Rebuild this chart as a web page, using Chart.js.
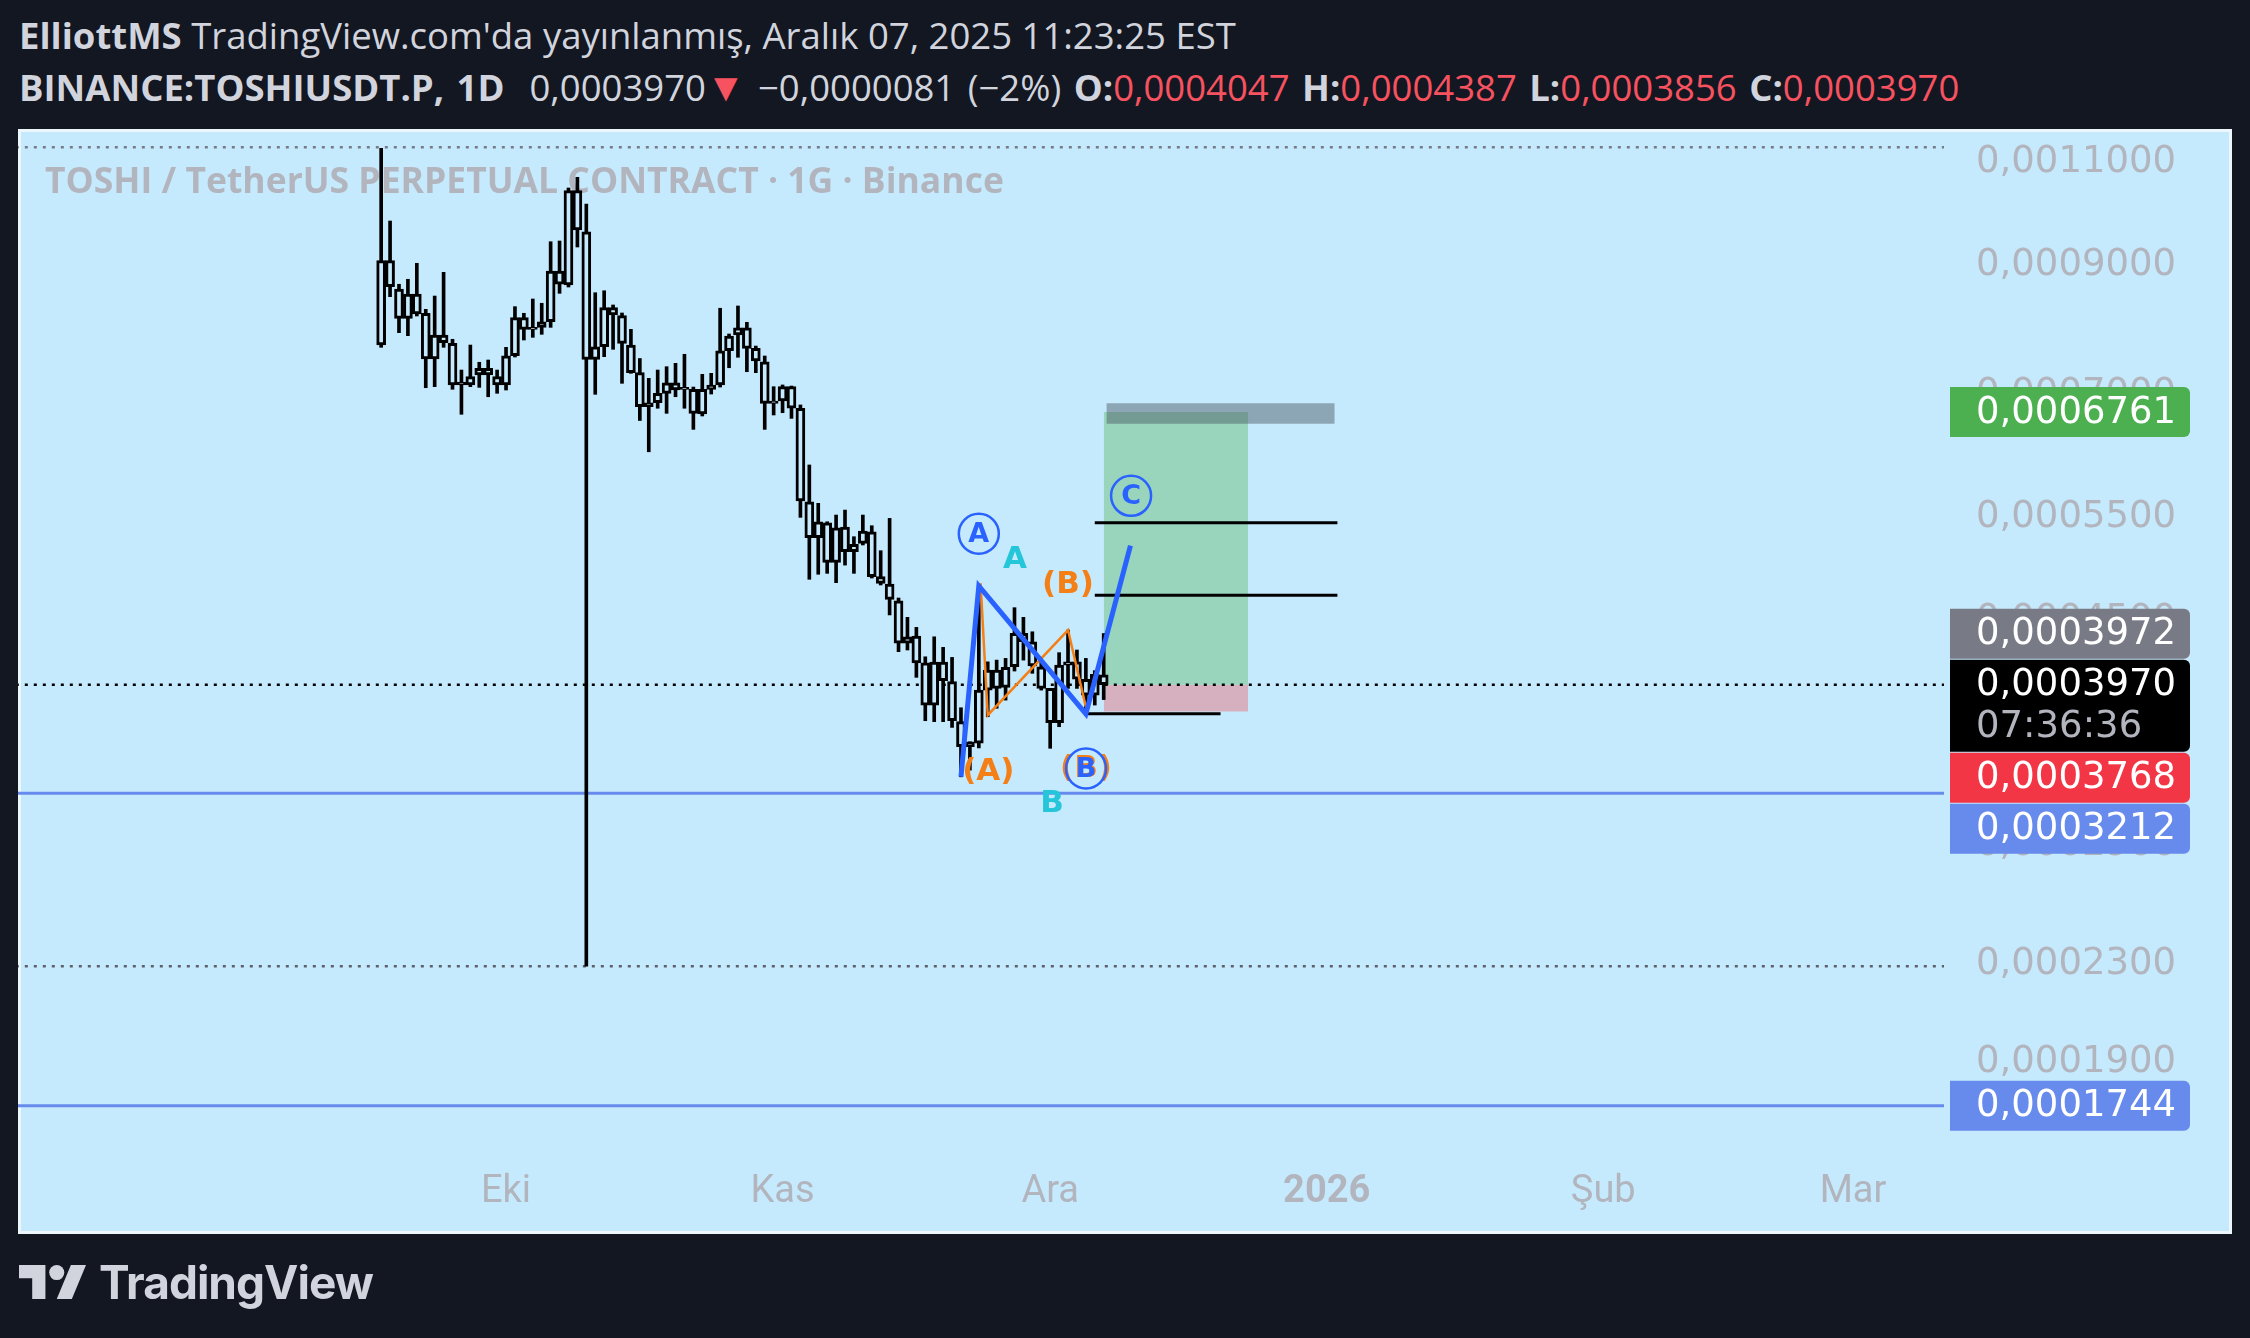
<!DOCTYPE html>
<html>
<head>
<meta charset="utf-8">
<script src="https://cdn.jsdelivr.net/npm/chart.js@4.4.1/dist/chart.umd.min.js"></script>
<style>
  html, body { margin: 0; padding: 0; background: #131722; width: 2250px; height: 1338px; overflow: hidden; }
  #chart { position: absolute; left: 0; top: 0; }
  .hdr { position: absolute; left: 19px; color: #d1d4dc; font-family: "Open Sans", sans-serif; font-size: 36.5px; line-height: 1.2; white-space: nowrap; }
  .hdr b { font-weight: 700; }
  #h1 { top: 14px; }
  #h2 { top: 62px; word-spacing: 3px; }
  .red { color: #f7525f; }
  .tri { font-size: 40px; }
  #logo { position: absolute; left: 19px; top: 1254px; display: flex; align-items: center; color: #d1d4dc; }
  #logo span { font-family: Inter, sans-serif; font-weight: 700; font-size: 46px; margin-left: 13px; letter-spacing: -1px; }
</style>
</head>
<body>
<div class="hdr" id="h1"><b>ElliottMS</b> TradingView.com'da yayınlanmış, Aralık 07, 2025 11:23:25 EST</div>
<div class="hdr" id="h2"><b>BINANCE:TOSHIUSDT.P, 1D</b>&nbsp; 0,0003970<span class="red tri">▼</span> −0,0000081 (−2%) <b>O:</b><span class="red">0,0004047</span> <b>H:</b><span class="red">0,0004387</span> <b>L:</b><span class="red">0,0003856</span> <b>C:</b><span class="red">0,0003970</span></div>
<canvas id="chart" width="2250" height="1338"></canvas>
<div id="logo">
  <svg width="67" height="34" viewBox="0 4 35.5 18"><path fill="#d1d4dc" d="M14 22H7V11H0V4h14v18ZM28 22h-8l7.5-18h8L28 22Z"/><circle fill="#d1d4dc" cx="20" cy="8" r="4"/></svg>
  <span>TradingView</span>
</div>
<script>
// day numbers counted from 1 Sep 2025 (day 0); first candle is 17 Sep
const firstDay = 16;

const opens = [0.0007706,0.0009086,0.0008597,0.0008119,0.0008514,0.0008199,0.0007499,0.0007859,0.0007732,0.0007128,
  0.0007128,0.0007268,0.0007364,0.0007244,0.0007128,0.0007547,0.0008129,0.0007946,0.0007977,0.0008065,
  0.0008905,0.0008665,0.0010417,0.0009615,0.0007494,0.0007681,0.0008289,0.0008161,0.0007706,0.0007301,
  0.0006832,0.0006885,0.0007013,0.0007159,0.0007068,0.0007068,0.0006735,0.0007068,0.0007128,0.0007621,
  0.0007859,0.0007971,0.0007657,0.0007459,0.0006877,0.0006908,0.0007104,0.0006811,0.0005674,0.0005290,
  0.0005446,0.0005041,0.0005400,0.0005147,0.0005232,0.0005351,0.0004902,0.0004832,0.0004677,0.0004304,
  0.0004365,0.0004143,0.0003815,0.0004149,0.0003993,0.0003693,0.0003517,0.0003542,0.0003928,0.0004085,
  0.0003949,0.0004111,0.0004389,0.0004317,0.0004111,0.0003941,0.0003686,0.0004125,0.0004151,0.0004012,
  0.0003890,0.0004047];
const highs = [0.0011316,0.0009818,0.0008677,0.0008762,0.0009040,0.0008263,0.0008480,0.0008882,0.0007793,0.0007339,
  0.0007706,0.0007451,0.0007484,0.0007339,0.0007672,0.0008306,0.0008199,0.0008431,0.0008361,0.0009429,
  0.0009442,0.0010472,0.0010693,0.0010150,0.0008535,0.0008568,0.0008333,0.0008204,0.0007946,0.0007506,
  0.0007221,0.0007339,0.0007387,0.0007436,0.0007568,0.0007099,0.0007278,0.0007292,0.0008280,0.0007874,
  0.0008317,0.0008056,0.0007691,0.0007543,0.0007104,0.0007128,0.0007113,0.0006855,0.0006097,0.0005657,
  0.0005457,0.0005529,0.0005583,0.0005300,0.0005529,0.0005415,0.0005157,0.0005493,0.0004702,0.0004528,
  0.0004440,0.0004192,0.0004359,0.0004270,0.0004187,0.0003795,0.0003551,0.0004814,0.0004151,0.0004165,
  0.0004179,0.0004614,0.0004528,0.0004402,0.0004151,0.0003941,0.0004226,0.0004417,0.0004248,0.0004179,
  0.0004080,0.0004387];
const lows = [0.0007672,0.0008469,0.0007894,0.0007848,0.0008156,0.0007090,0.0007104,0.0007672,0.0007068,0.0006731,
  0.0007104,0.0007095,0.0006966,0.0007013,0.0007058,0.0007528,0.0007782,0.0007823,0.0007869,0.0007977,
  0.0008525,0.0008631,0.0009332,0.0002291,0.0006999,0.0007533,0.0007642,0.0007151,0.0007292,0.0006650,
  0.0006256,0.0006811,0.0006744,0.0006966,0.0006811,0.0006536,0.0006709,0.0007003,0.0007099,0.0007372,
  0.0007524,0.0007315,0.0007301,0.0006536,0.0006722,0.0006752,0.0006678,0.0005504,0.0004877,0.0004925,
  0.0004934,0.0004845,0.0005014,0.0004934,0.0005215,0.0004889,0.0004823,0.0004549,0.0004234,0.0004248,
  0.0004027,0.0003700,0.0003693,0.0003693,0.0003652,0.0003316,0.0003360,0.0003508,0.0003729,0.0003791,
  0.0003852,0.0004077,0.0004165,0.0004059,0.0003928,0.0003506,0.0003657,0.0003941,0.0003941,0.0003763,
  0.0003815,0.0003856];
const closes = [0.0009086,0.0008636,0.0008119,0.0008514,0.0008188,0.0007499,0.0007859,0.0007741,0.0007128,0.0007169,
  0.0007244,0.0007364,0.0007268,0.0007128,0.0007547,0.0008129,0.0007946,0.0007977,0.0008065,0.0008905,
  0.0008677,0.0010417,0.0009647,0.0007494,0.0007681,0.0008289,0.0008172,0.0007732,0.0007301,0.0006832,
  0.0006885,0.0007013,0.0007159,0.0007058,0.0007095,0.0006744,0.0007068,0.0007128,0.0007621,0.0007843,
  0.0007971,0.0007657,0.0007470,0.0006877,0.0006908,0.0007104,0.0006811,0.0005685,0.0005290,0.0005457,
  0.0005041,0.0005393,0.0005147,0.0005222,0.0005359,0.0004902,0.0004839,0.0004690,0.0004304,0.0004359,
  0.0004143,0.0003815,0.0004149,0.0004001,0.0003700,0.0003517,0.0003551,0.0003928,0.0004085,0.0003941,
  0.0004107,0.0004389,0.0004317,0.0004117,0.0003941,0.0003686,0.0004125,0.0004151,0.0004012,0.0003890,
  0.0004051,0.0003970];

// x axis: month starts (day numbers) and their labels
const monthDays = [30, 61, 91, 122, 153, 181];
const monthLabels = ['Eki', 'Kas', 'Ara', '2026', 'Şub', 'Mar'];
const priceTicks = [0.0011, 0.0009, 0.0007, 0.00055, 0.00045, 0.00036, 0.00029, 0.00023, 0.00019];

// elliott wave drawings
const waveBlue = [{x: 81, y: 0.0003316}, {x: 83, y: 0.0004814}, {x: 95, y: 0.000375}, {x: 100, y: 0.0005208}];
const waveOrange = [{x: 83.2, y: 0.000484}, {x: 84, y: 0.000374}, {x: 93, y: 0.0004417}, {x: 95, y: 0.00038}];
const waveText = ['A', 'A', '(B)', '(A)', '(B)', 'B', 'B', 'C'];
const waveTextX = [83, 87.06, 93, 84.07, 95.02, 95.02, 91.2, 100.07];
const waveTextY = [0.000533, 0.0005064, 0.000482, 0.000335, 0.000337, 0.000337, 0.0003144, 0.000574];
const waveTextColor = ['#2962ff', '#26c6da', '#f57f17', '#f57f17', '#f57f17', '#2962ff', '#26c6da', '#2962ff'];
const waveCircled = [true, false, false, false, false, true, false, true];

// levels
const athLine = 0.001134;
const lastPrice = 0.000397;
const crashLow = 0.0002291;
const blueLevels = [0.0003212, 0.0001744];
const targetLevels = [0.0005446, 0.0004727];
const stopLevel = 0.000375;
// long position tool
const entry = 0.000397, takeProfit = 0.0006761, stopLoss = 0.0003768;
const posStart = 97, posEnd = 113.2;

// right axis tags
const tagValues = [0.0006761, 0.0003972, 0.0003970, 0.0003768, 0.0003212, 0.0001744];
const tagColors = ['#4caf50', '#787b86', '#000000', '#f23645', '#678bec', '#678bec'];
const tagCountdown = '07:36:36';

const days = opens.map((_, i) => firstDay + i);
const bodies = days.map((d, i) => ({x: d, y: [Math.min(opens[i], closes[i]), Math.max(opens[i], closes[i])]}));
const wicks = days.map((d, i) => ({x: d, y: [lows[i], highs[i]]}));

const fmt = v => v.toFixed(7).replace('.', ',');

function hline(y, x0, x1, color, width, dash, order) {
  return {
    type: 'line', data: [{x: x0, y: y}, {x: x1, y: y}],
    borderColor: color, borderWidth: width, borderDash: dash || [],
    pointRadius: 0, fill: false, order: order
  };
}
function box(top, bottom, x0, x1, color, order) {
  return {
    type: 'line', data: [{x: x0, y: top}, {x: x1, y: top}],
    borderWidth: 0, borderColor: 'rgba(0,0,0,0)', pointRadius: 0,
    fill: {value: bottom}, backgroundColor: color, order: order
  };
}

const panelBg = {
  id: 'panelBg',
  beforeDraw(chart) {
    const ctx = chart.ctx;
    ctx.save();
    ctx.fillStyle = '#edf6fb';
    ctx.fillRect(18, 129, 2214, 1105);
    ctx.fillStyle = '#c6eafd';
    ctx.fillRect(21, 132, 2208, 1099);
    ctx.restore();
  }
};

const watermark = {
  id: 'watermark',
  beforeDatasetsDraw(chart) {
    const ctx = chart.ctx;
    ctx.save();
    ctx.font = 'bold 35.5px "Open Sans"';
    ctx.fillStyle = '#b2b5be';
    ctx.textBaseline = 'alphabetic';
    ctx.fillText('TOSHI / TetherUS PERPETUAL CONTRACT · 1G · Binance', 45, 193);
    ctx.restore();
  }
};

const waveLabels = {
  id: 'waveLabels',
  afterDatasetsDraw(chart) {
    const ctx = chart.ctx, xs = chart.scales.x, ys = chart.scales.y;
    ctx.save();
    ctx.textAlign = 'center';
    ctx.textBaseline = 'middle';
    waveText.forEach((t, i) => {
      const px = xs.getPixelForValue(waveTextX[i]);
      const py = ys.getPixelForValue(waveTextY[i]);
      ctx.fillStyle = waveTextColor[i];
      if (waveCircled[i]) {
        ctx.strokeStyle = waveTextColor[i];
        ctx.lineWidth = 2.5;
        ctx.beginPath();
        ctx.arc(px, py, 20, 0, Math.PI * 2);
        ctx.stroke();
        ctx.font = 'bold 27px "DejaVu Sans"';
        ctx.fillText(t, px, py + 1);
      } else {
        ctx.font = 'bold 31px "DejaVu Sans"';
        ctx.fillText(t, px, py);
      }
    });
    ctx.restore();
  }
};

const axisTags = {
  id: 'axisTags',
  afterDraw(chart) {
    const ctx = chart.ctx, ys = chart.scales.y;
    const anchor = tagColors.indexOf('#000000');
    const tags = tagValues.map((v, i) => {
      const p = ys.getPixelForValue(v);
      const h = i === anchor ? 92 : 50;
      return {v: v, top: p - 25, h: h};
    });
    for (let i = anchor - 1; i >= 0; i--) {
      const lim = tags[i + 1].top - 1;
      if (tags[i].top + tags[i].h > lim) tags[i].top = lim - tags[i].h;
    }
    for (let i = anchor + 1; i < tags.length; i++) {
      const lim = tags[i - 1].top + tags[i - 1].h + 1;
      if (tags[i].top < lim) tags[i].top = lim;
    }
    const x0 = chart.chartArea.right + 6;
    ctx.save();
    ctx.font = '37px "DejaVu Sans"';
    ctx.textAlign = 'left';
    ctx.textBaseline = 'middle';
    tags.forEach((t, i) => {
      ctx.fillStyle = tagColors[i];
      ctx.beginPath();
      ctx.roundRect(x0, t.top, 240, t.h, [0, 6, 6, 0]);
      ctx.fill();
      ctx.fillStyle = '#ffffff';
      ctx.fillText(fmt(t.v), x0 + 26, t.top + 26);
      if (i === anchor) {
        ctx.fillStyle = '#b2b5be';
        ctx.fillText(tagCountdown, x0 + 26, t.top + 68);
      }
    });
    ctx.restore();
  }
};

const datasets = [
  box(0.0006877, 0.0006608, 97.3, 122.9, 'rgba(70,85,95,0.45)', 1),
  {type: 'line', data: waveBlue, borderColor: '#2962ff', borderWidth: 5, pointRadius: 0, fill: false, order: 2},
  {type: 'line', data: waveOrange, borderColor: '#f57f17', borderWidth: 2.5, pointRadius: 0, fill: false, order: 3},
  hline(targetLevels[0], 96, 123.2, '#000000', 3, null, 4),
  hline(targetLevels[1], 96, 123.2, '#000000', 3, null, 4),
  hline(stopLevel, 95, 110.1, '#000000', 3, null, 4),
  {type: 'bar', data: bodies, backgroundColor: '#c6eafd', borderColor: '#000000', borderWidth: 3,
    borderSkipped: false, barThickness: 9, grouped: false, order: 5},
  {type: 'bar', data: wicks, backgroundColor: '#000000', barThickness: 3, grouped: false, order: 6},
  hline(athLine, -30, 200, '#787b86', 2.5, [3, 6], 7),
  hline(lastPrice, -30, 200, '#000000', 2.5, [3, 6], 7),
  hline(crashLow, -30, 200, '#5d606b', 2.5, [3, 6], 7),
  hline(blueLevels[0], -30, 200, '#678bec', 3, null, 7),
  hline(blueLevels[1], -30, 200, '#678bec', 3, null, 7),
  box(takeProfit, entry, posStart, posEnd, '#99d5bd', 8),
  box(stopLoss, entry, posStart, posEnd, '#d7b0c0', 8)
];

new Chart(document.getElementById('chart'), {
  type: 'bar',
  data: {datasets: datasets},
  options: {
    responsive: false,
    devicePixelRatio: 1,
    animation: false,
    layout: {padding: {left: 18, right: 18, top: 132, bottom: 104}},
    plugins: {legend: {display: false}, tooltip: {enabled: false}},
    elements: {line: {tension: 0}},
    scales: {
      x: {
        type: 'linear', offset: false, min: -24.71, max: 191.2,
        grid: {display: false}, border: {display: false},
        afterBuildTicks: s => { s.ticks = monthDays.map(v => ({value: v})); },
        afterFit: s => { s.height = 84; },
        ticks: {
          autoSkip: false, maxRotation: 0, padding: 12, color: '#b2b5be',
          font: ctx => ({family: 'Roboto', size: 38, weight: ctx.tick && ctx.tick.value === 122 ? 'bold' : 'normal'}),
          callback: v => monthLabels[monthDays.indexOf(v)]
        }
      },
      y: {
        type: 'logarithmic', position: 'right', min: 0.00016, max: 0.0011682,
        grid: {display: false}, border: {display: false},
        afterBuildTicks: s => { s.ticks = priceTicks.map(v => ({value: v})); },
        afterFit: s => { s.width = 288; },
        ticks: {
          autoSkip: false, padding: 24, color: '#b2b5be',
          font: {family: 'DejaVu Sans', size: 37},
          callback: v => fmt(v)
        }
      }
    }
  },
  plugins: [panelBg, watermark, waveLabels, axisTags]
});
</script>
</body>
</html>
